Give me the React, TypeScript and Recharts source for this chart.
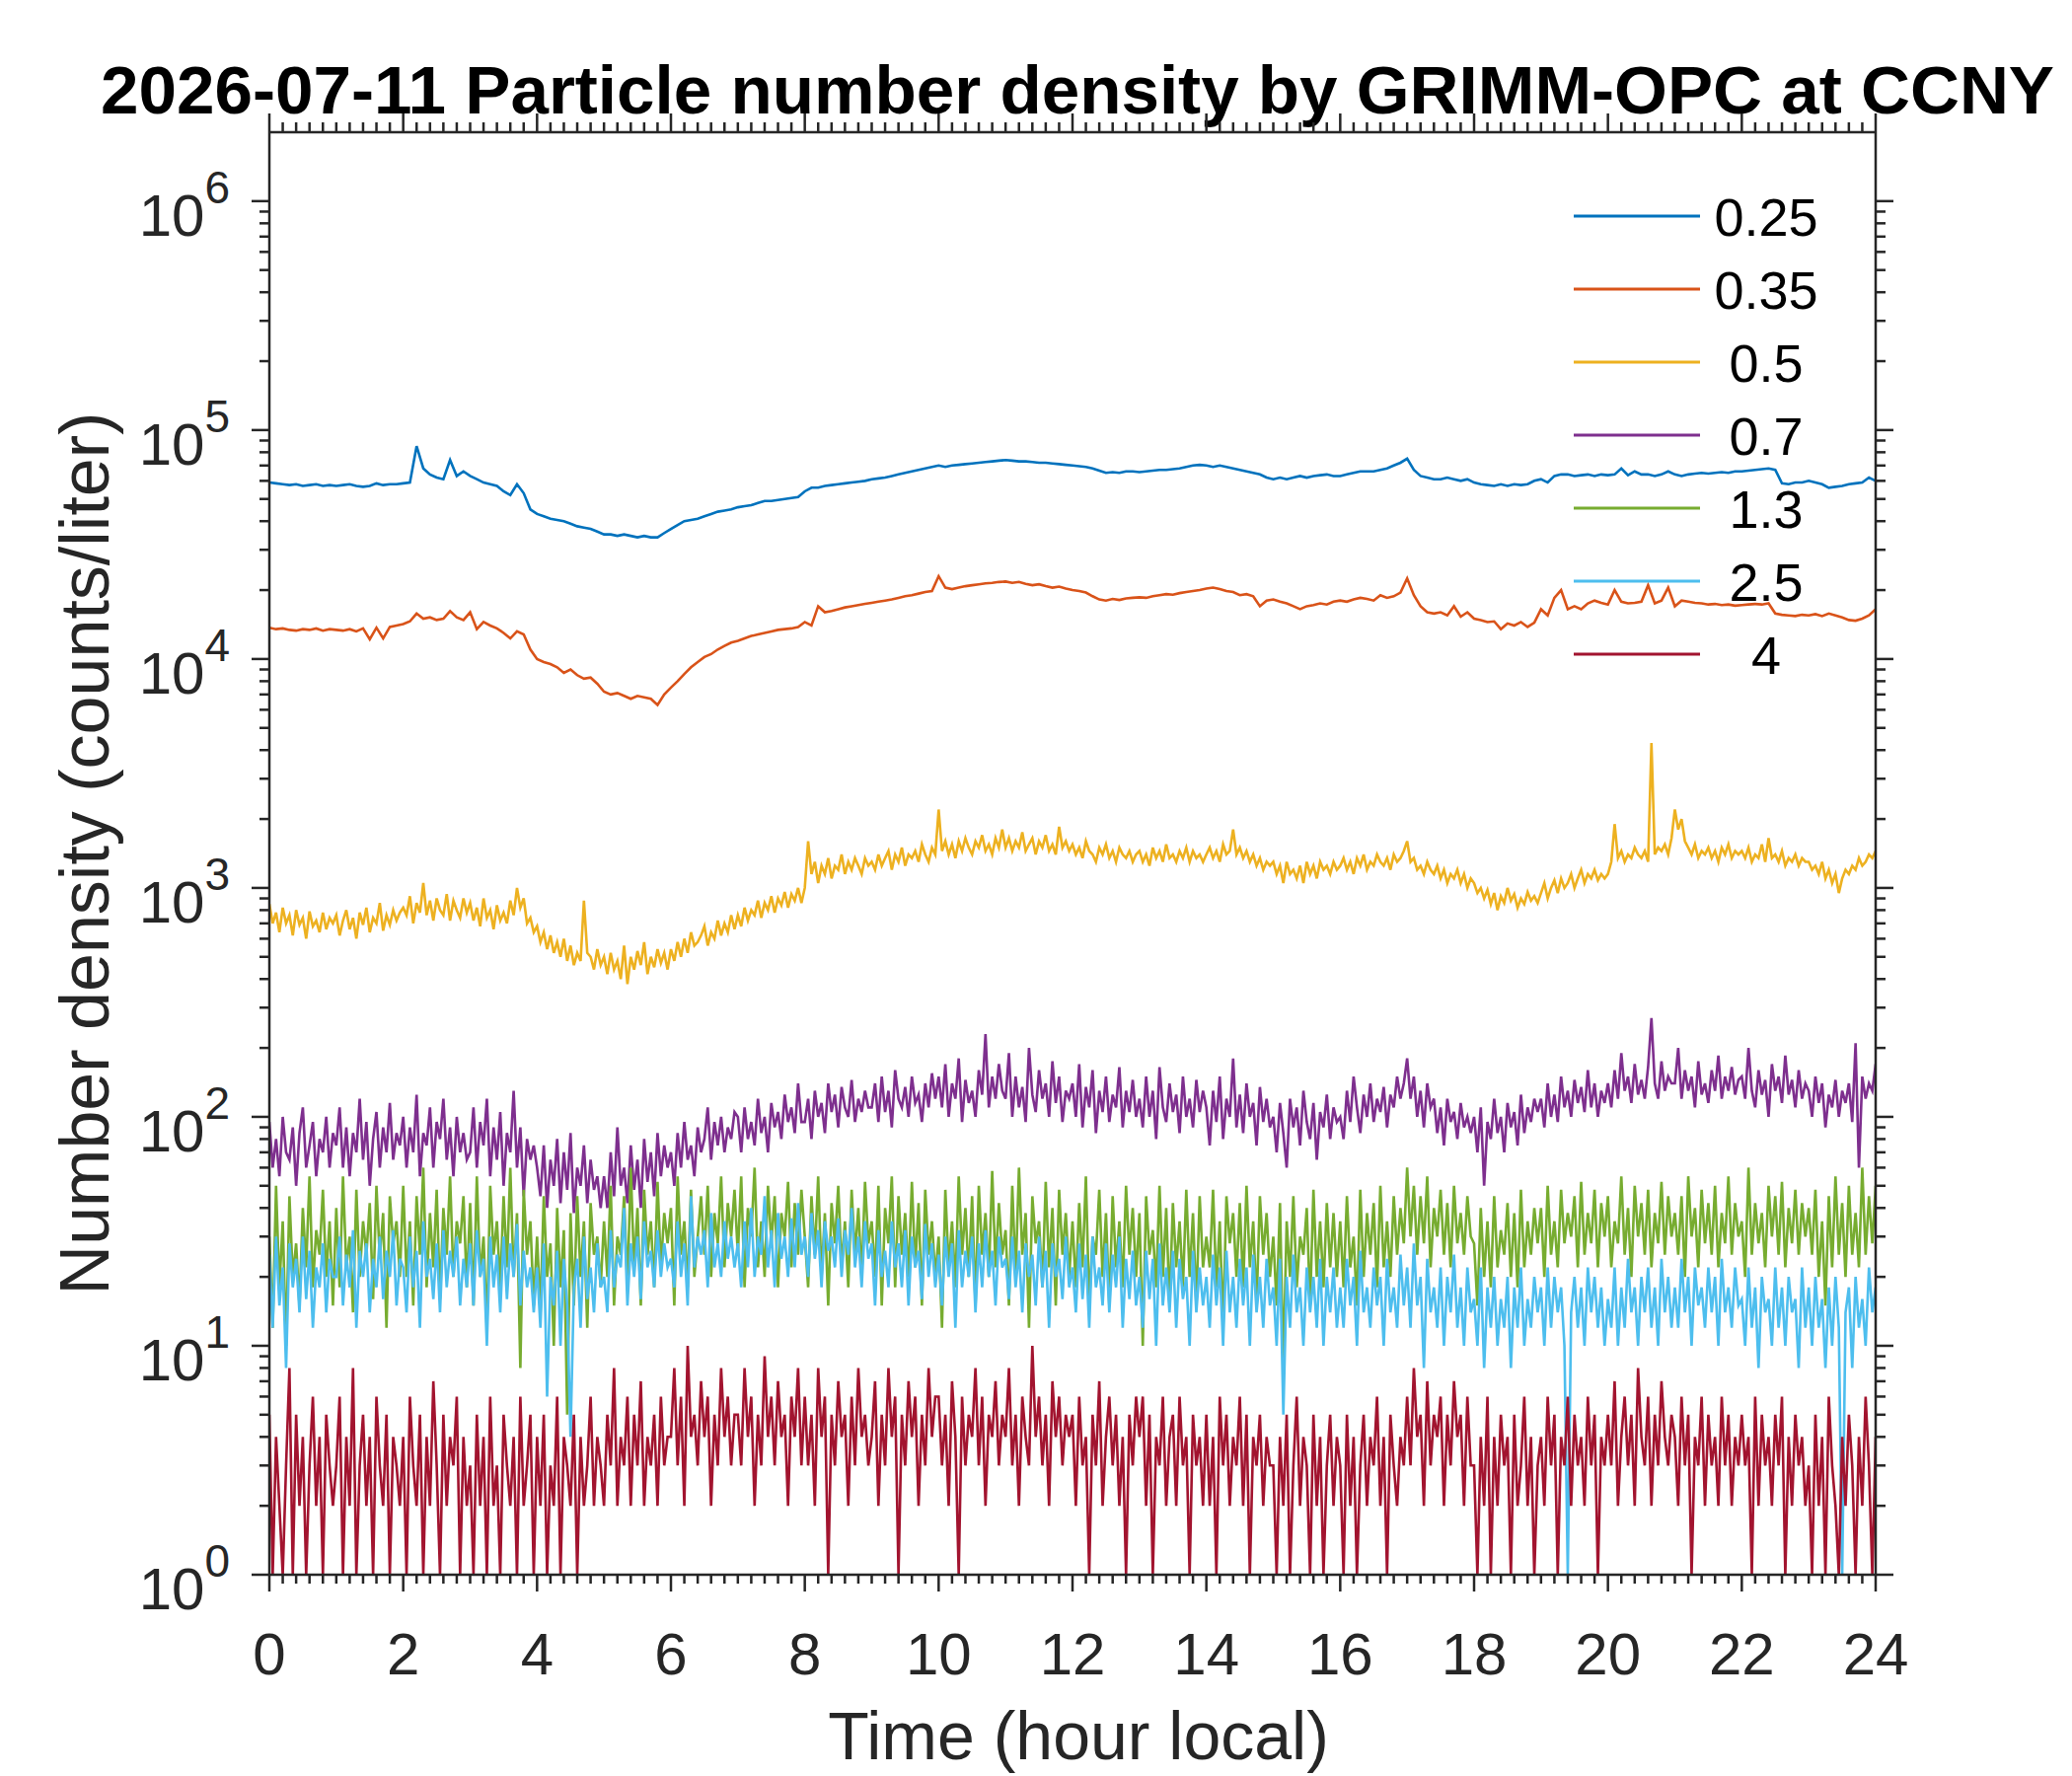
import { LineChart, Line, XAxis, YAxis, Legend } from 'recharts';

const FONT = '"Liberation Sans", Arial, Helvetica, sans-serif';
const INK = '#262626';

// time of day, hours: smooth bins every 6 min, noisy bins every 3 min
const hours = Array.from({ length: 241 }, (_, i) => i / 10);
const fineHours = Array.from({ length: 481 }, (_, i) => i / 20);

// bin sizes (um) and MATLAB default colour order
const sizes = ['0.25', '0.35', '0.5', '0.7', '1.3', '2.5', '4'];
const colors = ['#0072BD', '#D95319', '#EDB120', '#7E2F8E', '#77AC30', '#4DBEEE', '#A2142F'];

// counts/liter, one row per hour (10 values)
const n025 = [
  59000, 58500, 58000, 57500, 58000, 57000, 57500, 58000, 57000, 57500,
  57000, 57500, 58000, 57000, 56500, 57000, 58500, 57500, 58000, 58000,
  58500, 59000, 85000, 68000, 64000, 62000, 61000, 74000, 63000, 66000,
  63000, 61000, 59000, 58000, 57000, 54000, 52000, 58000, 53000, 45000,
  43000, 42000, 41000, 40500, 40000, 39000, 38000, 37500, 37000, 36000,
  35000, 35000, 34500, 35000, 34500, 34000, 34500, 34000, 34000, 35500,
  37000, 38500, 40000, 40500, 41000, 42000, 43000, 44000, 44500, 45000,
  46000, 46500, 47000, 48000, 49000, 49000, 49500, 50000, 50500, 51000,
  54000, 56000, 56000, 57000, 57500, 58000, 58500, 59000, 59500, 60000,
  61000, 61500, 62000, 63000, 64000, 65000, 66000, 67000, 68000, 69000,
  70000, 69000, 70000, 70500, 71000, 71500, 72000, 72500, 73000, 73500,
  74000, 73500, 73000, 73000, 72500, 72000, 72000, 71500, 71000, 70500,
  70000, 69500, 69000, 68000, 66500, 65000, 65500, 65000, 66000, 66000,
  65500, 66000, 66500, 67000, 67000, 67500, 68000, 69000, 70000, 70500,
  70000, 69000, 70000, 69000, 68000, 67000, 66000, 65000, 64000, 62000,
  61000, 62000, 61000, 62000, 63000, 62000, 63000, 63500, 64000, 63000,
  63000, 64000, 65000, 66000, 66000, 66000, 67000, 68000, 70000, 72000,
  75000, 67000, 63000, 62000, 61000, 61000, 62000, 61000, 60000, 61000,
  59000, 58000, 57500, 57000, 58000, 57000, 58000, 57500, 58000, 60000,
  61000, 59000, 63000, 64000, 64000, 63000, 63500, 64000, 63000, 64000,
  63500, 64000, 68000, 63500, 66000, 64000, 64000, 63000, 64000, 66000,
  64000, 63000, 64000, 64500, 65000, 64500, 65000, 65500, 65000, 66000,
  66000, 66500, 67000, 67500, 68000, 67000, 58500, 58000, 59000, 59000,
  60000, 59000, 58000, 56000, 56500, 57000, 58000, 58500, 59000, 62000,
  60000,
];

const n035 = [
  13700, 13500, 13600, 13400, 13300, 13500, 13400, 13600, 13300, 13500,
  13400, 13300, 13500, 13200, 13600, 12200, 13700, 12300, 13800, 14000,
  14200, 14600, 15800, 15000, 15200, 14800, 15000, 16200, 15200, 14800,
  16000, 13500, 14500, 14000, 13600, 13000, 12300, 13200, 12800, 11000,
  10000, 9700, 9500, 9200, 8700, 9000, 8500, 8200, 8300, 7800,
  7200, 7000, 7100, 6900, 6700, 6900, 6800, 6700, 6300, 7000,
  7500, 8000, 8600, 9200, 9700, 10200, 10500, 11000, 11400, 11800,
  12000, 12300, 12600, 12800, 13000, 13200, 13400, 13500, 13600, 13800,
  14500, 14000, 17000, 16000, 16200, 16500, 16800, 17000, 17200, 17400,
  17600, 17800, 18000, 18200, 18500, 18800, 19000, 19300, 19600, 19800,
  23000, 20500, 20200, 20500, 20800, 21000, 21200, 21400, 21500, 21700,
  21800, 21500, 21700, 21300, 21000, 21200, 20800, 20500, 20700, 20300,
  20000, 19800, 19500, 18800, 18200, 18000, 18300, 18100, 18400, 18500,
  18600, 18500, 18800, 19000, 19200, 19100, 19400, 19600, 19800, 20000,
  20300, 20500, 20200, 19800, 19600, 19000, 19200, 18800, 17000, 18000,
  18200, 17800, 17500, 17000, 16500, 17000, 17200, 17500, 17300, 17800,
  18000, 17800, 18200, 18500, 18300, 18000, 19000, 18500, 18800, 19500,
  22500, 19000, 17000, 16000, 15800, 16000, 15500, 17000, 15300, 16000,
  15000, 14800, 14500, 14600, 13500, 14300, 14000, 14500, 13800, 14400,
  16500, 15500, 18500, 20000, 16500, 17000, 16500, 17500, 18000, 17600,
  17300, 20000, 17800, 17500, 17600, 17800, 21000, 17500, 18000, 20500,
  17000, 18000, 17800, 17600, 17500, 17300, 17400, 17200, 17300, 17100,
  17200, 17300, 17400, 17300, 17500, 15800, 15600, 15500, 15400, 15600,
  15500, 15700, 15400, 15800, 15500, 15200, 14800, 14700, 15000, 15500,
  16500,
];

// noisy bins, one row per hour (20 values)
const n05 = [
  850, 700, 780, 640, 820, 700, 760, 620, 800, 690, 740, 600, 790, 680, 720, 640, 780, 660, 740, 700,
  760, 620, 720, 800, 660, 740, 600, 780, 690, 820, 640, 740, 700, 860, 650, 760, 690, 800, 720, 780,
  820, 760, 920, 700, 860, 780, 1050, 760, 880, 720, 900, 800, 760, 940, 720, 880, 800, 740, 900, 780,
  860, 720, 820, 680, 900, 740, 800, 660, 840, 720, 780, 700, 880, 760, 1000, 820, 900, 700, 740, 640,
  680, 580, 640, 540, 620, 520, 580, 500, 600, 480, 560, 460, 520, 480, 880, 520, 500, 440, 540, 460,
  500, 420, 520, 440, 480, 400, 560, 380, 500, 440, 530, 460, 580, 420, 500, 450, 540, 470, 520, 440,
  540, 480, 580, 500, 600, 520, 640, 560, 580, 620, 680, 560, 640, 600, 720, 620, 700, 640, 760, 660,
  760, 680, 820, 720, 800, 760, 880, 740, 860, 800, 920, 780, 900, 840, 960, 820, 940, 880, 1000, 860,
  1000, 1600, 1150, 1300, 1050, 1250, 1150, 1350, 1100, 1250, 1200, 1400, 1150, 1300, 1200, 1350, 1250, 1150, 1350, 1250,
  1300, 1200, 1400, 1250, 1350, 1450, 1200, 1400, 1300, 1500, 1250, 1400, 1350, 1450, 1300, 1550, 1400, 1300, 1500, 1400,
  2200, 1450, 1600, 1400, 1550, 1350, 1600, 1450, 1650, 1500, 1400, 1600, 1500, 1700, 1450, 1550, 1400, 1650, 1500, 1800,
  1500, 1650, 1450, 1600, 1500, 1750, 1450, 1550, 1650, 1400, 1600, 1500, 1700, 1450, 1550, 1400, 1850, 1500, 1600, 1450,
  1550, 1400, 1500, 1350, 1600, 1450, 1400, 1300, 1500, 1400, 1550, 1350, 1450, 1300, 1500, 1400, 1350, 1450, 1300, 1400,
  1450, 1300, 1400, 1250, 1500, 1350, 1450, 1300, 1550, 1350, 1400, 1300, 1450, 1350, 1500, 1300, 1450, 1350, 1400, 1300,
  1400, 1500, 1350, 1450, 1300, 1550, 1400, 1450, 1800, 1400, 1500, 1350, 1450, 1300, 1400, 1250, 1350, 1200, 1300, 1250,
  1300, 1150, 1250, 1050, 1300, 1150, 1200, 1100, 1250, 1050, 1300, 1150, 1250, 1100, 1300, 1200, 1250, 1150, 1300, 1200,
  1250, 1350, 1200, 1300, 1150, 1350, 1250, 1400, 1200, 1300, 1250, 1400, 1300, 1250, 1350, 1200, 1400, 1300, 1350, 1450,
  1600, 1300, 1350, 1200, 1250, 1150, 1300, 1200, 1150, 1250, 1100, 1200, 1050, 1150, 1100, 1200, 1050, 1150, 1000, 1100,
  1050, 950, 1000, 900, 980, 850, 950, 800, 920, 860, 1000, 880, 940, 820, 900, 850, 960, 880, 920, 860,
  950, 1050, 900, 1000, 1080, 950, 1100, 1000, 1050, 1150, 1000, 1100, 1200, 1050, 1150, 1100, 1200, 1080, 1150, 1100,
  1150, 1300, 1900, 1350, 1450, 1300, 1400, 1350, 1500, 1400, 1350, 1450, 1300, 4300, 1400, 1500, 1450, 1550, 1400, 1650,
  2200, 1800, 2000, 1600, 1500, 1400, 1550, 1350, 1450, 1400, 1500, 1350, 1450, 1300, 1500, 1400, 1550, 1350, 1450, 1400,
  1450, 1350, 1500, 1300, 1400, 1350, 1550, 1300, 1650, 1350, 1400, 1300, 1450, 1250, 1350, 1300, 1400, 1250, 1350, 1300,
  1300, 1200, 1250, 1150, 1300, 1100, 1200, 1050, 1150, 950, 1100, 1200, 1150, 1250, 1200, 1350, 1250, 1300, 1400, 1350,
  1450,
];

const n07 = [
  95, 60, 80, 55, 100, 70, 65, 90, 50, 85, 110, 60, 75, 95, 55, 80, 70, 100, 60, 85,
  75, 110, 60, 90, 55, 85, 70, 120, 65, 95, 50, 80, 105, 60, 90, 70, 115, 65, 85, 75,
  100, 60, 90, 70, 125, 55, 85, 75, 110, 60, 95, 80, 120, 65, 90, 55, 100, 70, 85, 65,
  70, 110, 60, 95, 75, 120, 55, 90, 65, 105, 50, 85, 70, 130, 60, 90, 45, 80, 65, 75,
  60, 45, 75, 40, 65, 50, 80, 42, 70, 48, 85, 38, 60, 50, 75, 42, 65, 48, 55, 40,
  55, 40, 70, 45, 90, 50, 60, 42, 75, 48, 65, 40, 80, 52, 70, 45, 85, 55, 75, 60,
  70, 50, 85, 60, 95, 65, 75, 55, 90, 70, 80, 110, 65, 95, 75, 100, 70, 90, 80, 105,
  100, 70, 110, 80, 95, 75, 120, 85, 100, 70, 115, 90, 105, 80, 125, 95, 110, 85, 140, 95,
  95, 120, 80, 130, 100, 115, 85, 140, 105, 125, 90, 135, 110, 100, 145, 95, 120, 105, 130, 110,
  110, 140, 95, 150, 105, 130, 90, 160, 120, 110, 135, 100, 150, 115, 125, 95, 140, 110, 155, 120,
  150, 110, 170, 100, 140, 120, 180, 95, 145, 115, 130, 100, 160, 125, 230, 110, 150, 120, 170, 130,
  120, 190, 100, 150, 110, 135, 95, 200, 125, 105, 160, 120, 140, 100, 175, 115, 150, 95, 130, 120,
  140, 100, 170, 90, 135, 110, 160, 85, 130, 105, 150, 95, 125, 110, 165, 90, 130, 105, 145, 100,
  120, 90, 150, 100, 130, 80, 165, 110, 95, 140, 105, 125, 85, 150, 100, 120, 90, 145, 105, 130,
  110, 75, 130, 95, 150, 80, 120, 100, 180, 90, 125, 85, 140, 100, 115, 75, 135, 95, 120, 90,
  100, 70, 115, 85, 60, 120, 90, 110, 75, 130, 95, 80, 115, 65, 105, 90, 125, 80, 110, 95,
  100, 80, 130, 95, 150, 110, 85, 125, 100, 140, 95, 120, 105, 135, 90, 125, 110, 150, 120, 140,
  180, 120, 150, 100, 130, 90, 140, 110, 120, 85, 110, 75, 120, 95, 105, 80, 115, 90, 100, 85,
  100, 70, 110, 50, 95, 80, 120, 85, 100, 70, 115, 90, 105, 75, 125, 85, 110, 95, 120, 105,
  120, 90, 140, 100, 125, 95, 150, 110, 130, 100, 145, 115, 135, 105, 160, 110, 140, 100, 130, 115,
  140, 110, 160, 120, 190, 130, 150, 115, 170, 125, 145, 120, 165, 270, 140, 120, 175, 130, 150, 140,
  140, 200, 120, 160, 130, 150, 110, 175, 125, 140, 115, 160, 130, 185, 120, 150, 130, 165, 125, 145,
  150, 120, 200, 130, 110, 160, 125, 145, 100, 170, 130, 150, 115, 185, 125, 145, 110, 160, 120, 140,
  130, 100, 150, 115, 140, 90, 125, 110, 145, 100, 130, 115, 140, 95, 210, 60, 150, 120, 140, 130,
  170,
];

const n13 = [
  30, 12, 50, 18, 35, 10, 45, 20, 28, 15, 40, 22, 55, 18, 32, 25, 48, 20, 35, 15,
  40, 18, 55, 22, 30, 14, 48, 20, 35, 25, 42, 16, 50, 24, 38, 12, 45, 28, 35, 20,
  50, 20, 35, 15, 45, 25, 60, 18, 38, 22, 48, 16, 40, 25, 55, 20, 35, 28, 45, 18,
  42, 15, 55, 20, 30, 12, 50, 25, 35, 18, 45, 22, 60, 20, 38, 8, 48, 25, 35, 15,
  30, 14, 45, 20, 28, 10, 40, 18, 32, 5, 38, 15, 45, 20, 35, 12, 42, 25, 30, 18,
  35, 20, 50, 15, 30, 25, 45, 18, 60, 22, 40, 15, 48, 25, 35, 18, 52, 22, 38, 28,
  40, 15, 55, 25, 35, 18, 48, 20, 30, 45, 25, 50, 20, 38, 28, 55, 22, 42, 30, 48,
  25, 55, 18, 40, 30, 60, 22, 35, 20, 50, 28, 45, 18, 38, 30, 52, 22, 42, 25, 48,
  30, 18, 45, 25, 55, 20, 38, 15, 42, 28, 50, 22, 35, 18, 48, 25, 40, 20, 52, 28,
  35, 20, 50, 15, 40, 28, 55, 18, 45, 25, 38, 20, 52, 22, 42, 15, 48, 25, 35, 20,
  30, 12, 48, 22, 35, 18, 55, 25, 40, 20, 45, 15, 50, 25, 38, 20, 58, 22, 42, 25,
  32, 15, 50, 20, 60, 25, 38, 12, 45, 28, 35, 18, 52, 22, 40, 15, 48, 25, 38, 20,
  35, 18, 42, 22, 55, 15, 30, 25, 48, 20, 38, 15, 45, 22, 35, 18, 50, 25, 40, 20,
  38, 10, 45, 25, 32, 18, 50, 20, 40, 15, 42, 22, 35, 18, 48, 20, 38, 15, 45, 22,
  30, 22, 48, 18, 35, 12, 45, 28, 38, 20, 42, 18, 50, 22, 35, 15, 45, 25, 38, 20,
  30, 15, 42, 8, 35, 20, 45, 18, 30, 25, 40, 15, 48, 20, 35, 18, 42, 22, 38, 20,
  35, 18, 45, 22, 30, 15, 48, 20, 38, 25, 42, 18, 50, 22, 35, 20, 45, 25, 40, 28,
  60, 30, 50, 25, 45, 28, 55, 22, 40, 30, 48, 25, 42, 22, 50, 28, 38, 25, 45, 30,
  28, 15, 40, 20, 35, 18, 45, 22, 32, 25, 42, 20, 38, 18, 48, 22, 35, 25, 40, 28,
  40, 20, 50, 25, 35, 22, 48, 28, 38, 30, 45, 22, 52, 25, 38, 28, 48, 22, 42, 30,
  45, 22, 35, 28, 55, 25, 40, 20, 50, 30, 42, 25, 48, 22, 38, 28, 52, 25, 45, 30,
  38, 25, 45, 20, 55, 30, 40, 22, 48, 28, 42, 25, 50, 22, 38, 28, 55, 25, 42, 30,
  35, 20, 60, 25, 42, 28, 38, 22, 50, 30, 45, 25, 52, 22, 40, 28, 48, 25, 42, 30,
  40, 25, 48, 20, 35, 15, 45, 22, 55, 25, 42, 20, 50, 25, 38, 22, 60, 25, 45, 28,
  50,
];

const n25 = [
  25, 12, 30, 15, 22, 8, 28, 18, 24, 14, 30, 16, 26, 12, 22, 18, 28, 14, 24, 20,
  20, 30, 15, 25, 18, 32, 12, 26, 20, 28, 14, 24, 18, 30, 16, 26, 20, 32, 15, 24,
  22, 14, 30, 18, 26, 12, 35, 20, 24, 16, 28, 14, 32, 18, 26, 20, 30, 15, 24, 18,
  28, 15, 32, 20, 24, 10, 30, 18, 25, 14, 30, 16, 28, 20, 34, 15, 26, 18, 22, 14,
  22, 12, 28, 6, 20, 15, 26, 10, 24, 15, 4, 18, 24, 12, 30, 16, 22, 14, 28, 18,
  20, 14, 32, 18, 25, 22, 40, 15, 28, 20, 30, 16, 35, 22, 26, 18, 32, 20, 28, 22,
  24, 18, 35, 20, 28, 15, 45, 22, 30, 25, 32, 18, 38, 22, 28, 20, 35, 24, 30, 22,
  28, 18, 35, 22, 40, 20, 30, 25, 45, 22, 32, 18, 38, 24, 30, 20, 36, 22, 42, 25,
  30, 20, 38, 24, 32, 18, 35, 26, 30, 22, 36, 20, 32, 25, 40, 22, 30, 18, 35, 24,
  28, 15, 32, 20, 26, 18, 35, 22, 28, 18, 32, 15, 30, 22, 26, 16, 34, 20, 28, 18,
  25, 15, 30, 20, 28, 12, 32, 18, 26, 20, 30, 14, 28, 18, 32, 20, 26, 15, 30, 22,
  24, 16, 30, 18, 26, 14, 28, 20, 25, 15, 30, 18, 26, 12, 28, 20, 24, 16, 30, 18,
  22, 14, 28, 16, 25, 12, 30, 18, 22, 15, 28, 14, 25, 18, 30, 12, 24, 16, 26, 15,
  20, 12, 26, 16, 24, 10, 28, 15, 22, 14, 26, 12, 24, 16, 20, 10, 26, 14, 22, 15,
  20, 12, 25, 15, 22, 10, 26, 14, 20, 12, 24, 15, 22, 10, 25, 14, 20, 12, 24, 15,
  18, 10, 24, 5, 20, 12, 25, 14, 18, 10, 22, 14, 20, 12, 24, 10, 20, 14, 22, 12,
  18, 12, 24, 15, 20, 10, 26, 14, 18, 12, 22, 15, 20, 10, 24, 14, 18, 12, 25, 15,
  22, 12, 28, 15, 20, 8, 24, 14, 18, 12, 22, 10, 20, 14, 25, 12, 18, 10, 22, 14,
  16, 10, 22, 8, 18, 12, 20, 10, 16, 12, 20, 8, 18, 12, 22, 10, 16, 12, 20, 14,
  18, 10, 22, 12, 20, 14, 18, 10, 1, 14, 20, 12, 18, 10, 22, 14, 20, 12, 18, 10,
  16, 12, 22, 10, 18, 12, 24, 14, 18, 10, 20, 14, 22, 12, 18, 10, 24, 14, 20, 12,
  18, 12, 24, 14, 20, 10, 22, 15, 18, 12, 22, 14, 20, 10, 24, 14, 18, 12, 22, 15,
  16, 10, 22, 12, 18, 8, 20, 14, 16, 10, 22, 12, 18, 10, 20, 14, 16, 8, 22, 12,
  18, 10, 20, 12, 16, 8, 18, 10, 20, 12, 1, 14, 18, 8, 20, 12, 16, 10, 22, 14,
  18,
];

const n4 = [
  5, 1, 4, 2, 1, 3, 8, 1, 5, 2, 4, 1, 3, 6, 2, 4, 1, 5, 3, 2,
  3, 6, 1, 4, 2, 8, 1, 3, 5, 2, 4, 1, 6, 3, 2, 5, 1, 4, 3, 2,
  4, 1, 6, 3, 2, 5, 1, 4, 2, 7, 3, 1, 5, 2, 4, 3, 6, 1, 4, 2,
  3, 1, 5, 2, 4, 1, 6, 2, 3, 1, 5, 3, 2, 4, 1, 6, 2, 3, 5, 1,
  4, 2, 5, 1, 3, 2, 6, 1, 4, 3, 2, 5, 1, 4, 2, 3, 6, 2, 4, 3,
  2, 5, 3, 8, 2, 4, 3, 6, 2, 5, 3, 7, 2, 4, 3, 5, 2, 6, 3, 4,
  4, 8, 3, 6, 2, 10, 4, 5, 3, 7, 4, 6, 2, 5, 3, 8, 4, 6, 3, 5,
  5, 3, 8, 4, 6, 2, 5, 3, 9, 4, 6, 3, 7, 4, 5, 2, 6, 4, 8, 3,
  6, 3, 5, 2, 8, 4, 6, 1, 5, 3, 7, 4, 5, 2, 6, 3, 8, 4, 5, 3,
  4, 7, 2, 5, 3, 8, 4, 6, 1, 5, 3, 7, 4, 6, 2, 5, 3, 8, 4, 6,
  6, 3, 5, 2, 7, 4, 1, 6, 3, 5, 4, 8, 3, 6, 2, 5, 4, 7, 3, 5,
  4, 8, 3, 5, 2, 6, 4, 3, 10, 4, 6, 3, 5, 2, 7, 4, 6, 3, 5, 4,
  5, 2, 6, 3, 4, 1, 5, 3, 7, 2, 4, 6, 3, 5, 2, 4, 1, 5, 3, 6,
  4, 6, 2, 5, 1, 4, 3, 6, 2, 4, 5, 2, 6, 3, 4, 1, 5, 3, 4, 2,
  5, 2, 4, 1, 6, 3, 5, 2, 4, 3, 6, 2, 5, 1, 4, 3, 5, 2, 4, 3,
  3, 1, 4, 2, 5, 1, 3, 6, 2, 4, 3, 1, 5, 2, 4, 1, 3, 5, 2, 4,
  3, 1, 5, 2, 4, 1, 3, 5, 2, 4, 3, 6, 2, 4, 1, 5, 3, 2, 4, 3,
  6, 3, 8, 4, 5, 2, 7, 3, 5, 4, 6, 2, 5, 3, 7, 4, 5, 2, 6, 3,
  3, 1, 4, 2, 6, 1, 4, 2, 5, 3, 4, 1, 5, 2, 3, 6, 2, 4, 1, 3,
  4, 2, 6, 3, 5, 1, 4, 3, 6, 2, 5, 3, 4, 2, 6, 3, 5, 1, 4, 3,
  5, 3, 7, 2, 4, 6, 3, 5, 2, 8, 4, 3, 6, 2, 5, 3, 7, 4, 3, 5,
  4, 2, 6, 3, 5, 1, 4, 3, 6, 2, 5, 3, 4, 2, 6, 3, 5, 2, 4, 3,
  5, 3, 4, 1, 6, 2, 5, 3, 4, 2, 5, 3, 6, 1, 4, 2, 5, 3, 4, 2,
  3, 1, 5, 2, 4, 1, 6, 3, 2, 1, 4, 2, 5, 3, 1, 4, 2, 6, 3, 1,
  4,
];

const xMajor = [0, 2, 4, 6, 8, 10, 12, 14, 16, 18, 20, 22, 24];
const yMajor = [1, 10, 100, 1000, 10000, 100000, 1000000];

const series = [n025, n035, n05, n07, n13, n25, n4];
const seriesData = series.map((s) => {
  const grid = s.length === hours.length ? hours : fineHours;
  return grid.map((h, i) => ({ h, v: s[i] }));
});

// minor ticks every 0.2 h, log minors 2..9 per decade
const xTicks = Array.from({ length: 121 }, (_, i) => i / 5);
const yTicks = yMajor.flatMap((d) => [1, 2, 3, 4, 5, 6, 7, 8, 9].map((k) => k * d)).filter((v) => v < 2000000);

const BottomTick = ({ x, y, payload }: any) => {
  const major = xMajor.includes(payload.value);
  return (
    <g>
      <line x1={x} x2={x} y1={y} y2={y + (major ? 17 : 9)} stroke={INK} strokeWidth={2.5} />
      {major && (
        <text x={x} y={y + 101} textAnchor="middle" fontSize={60} fill={INK} fontFamily={FONT}>
          {payload.value}
        </text>
      )}
    </g>
  );
};

const TopTick = ({ x, y, payload }: any) => {
  const major = xMajor.includes(payload.value);
  return <line x1={x} x2={x} y1={y} y2={y - (major ? 19 : 10)} stroke={INK} strokeWidth={2.5} />;
};

const LeftTick = ({ x, y, payload }: any) => {
  const v = payload.value;
  const major = yMajor.includes(v);
  return (
    <g>
      <line x1={x - (major ? 18 : 10)} x2={x} y1={y} y2={y} stroke={INK} strokeWidth={2.5} />
      {major && (
        <text x={x - 40} y={y + 35} textAnchor="end" fontSize={60} fill={INK} fontFamily={FONT}>
          10
          <tspan dy={-33} fontSize={46}>
            {Math.round(Math.log10(v))}
          </tspan>
        </text>
      )}
    </g>
  );
};

const RightTick = ({ x, y, payload }: any) => {
  const major = yMajor.includes(payload.value);
  return <line x1={x} x2={x + (major ? 18 : 10)} y1={y} y2={y} stroke={INK} strokeWidth={2.5} />;
};

const TitleLabel = ({ viewBox }: any) => (
  <text
    x={viewBox.x + viewBox.width / 2 + 5}
    y={viewBox.y + viewBox.height - 19}
    textAnchor="middle"
    fontSize={68}
    fontWeight="bold"
    fill="#000"
    fontFamily={FONT}
    textLength={1980}
    lengthAdjust="spacingAndGlyphs"
  >
    2026-07-11 Particle number density by GRIMM-OPC at CCNY
  </text>
);

const XTitle = ({ viewBox }: any) => (
  <text x={viewBox.x + viewBox.width / 2 + 6} y={viewBox.y + 187} textAnchor="middle" fontSize={68} fill={INK} fontFamily={FONT}>
    Time (hour local)
  </text>
);

const YTitle = ({ viewBox }: any) => {
  const cx = viewBox.x - 63;
  const cy = viewBox.y + viewBox.height / 2;
  return (
    <text x={cx} y={cy} transform={`rotate(-90, ${cx}, ${cy})`} textAnchor="middle" fontSize={70} fill={INK} fontFamily={FONT}>
      Number density (counts/liter)
    </text>
  );
};

const renderLegend = ({ payload }: any) => (
  <svg width={330} height={540} style={{ display: 'block' }}>
    {(payload || []).map((p: any, i: number) => {
      const cy = 39 + i * 74;
      return (
        <g key={p.value}>
          <line x1={15} x2={143} y1={cy} y2={cy} stroke={p.color} strokeWidth={3} />
          <text x={210} y={cy + 20} textAnchor="middle" fontSize={54} fill="#000" fontFamily={FONT}>
            {p.value}
          </text>
        </g>
      );
    })}
  </svg>
);

const axisLine = { stroke: INK, strokeWidth: 2.5 };

export default function App() {
  return (
    <div style={{ position: 'absolute', left: 0, top: 0, width: 2100, height: 1800, background: '#fff' }}>
      <LineChart width={2100} height={1800} margin={{ top: 94, right: 99, bottom: 104, left: 173 }}>
        <XAxis
          dataKey="h"
          type="number"
          domain={[0, 24]}
          allowDataOverflow
          ticks={xTicks}
          interval={0}
          height={100}
          axisLine={axisLine}
          tickLine={false}
          tickSize={0}
          tickMargin={0}
          tick={<BottomTick />}
          label={XTitle}
        />
        <XAxis
          xAxisId="top"
          orientation="top"
          dataKey="h"
          type="number"
          domain={[0, 24]}
          allowDataOverflow
          ticks={xTicks}
          interval={0}
          height={40}
          axisLine={axisLine}
          tickLine={false}
          tickSize={0}
          tickMargin={0}
          tick={<TopTick />}
          label={TitleLabel}
        />
        <YAxis
          type="number"
          scale="log"
          domain={[1, 2000000]}
          allowDataOverflow
          ticks={yTicks}
          interval={0}
          width={100}
          axisLine={axisLine}
          tickLine={false}
          tickSize={0}
          tickMargin={0}
          tick={<LeftTick />}
          label={YTitle}
        />
        <YAxis
          yAxisId="right"
          orientation="right"
          type="number"
          scale="log"
          domain={[1, 2000000]}
          allowDataOverflow
          ticks={yTicks}
          interval={0}
          width={100}
          axisLine={axisLine}
          tickLine={false}
          tickSize={0}
          tickMargin={0}
          tick={<RightTick />}
        />
        <Legend
          layout="vertical"
          align="center"
          verticalAlign="middle"
          content={renderLegend}
          wrapperStyle={{ left: 1580, top: 180, width: 330, height: 540 }}
        />
        {seriesData.map((d, j) => (
          <Line
            key={sizes[j]}
            data={d}
            type="linear"
            dataKey="v"
            name={sizes[j]}
            stroke={colors[j]}
            strokeWidth={2.6}
            dot={false}
            activeDot={false}
            isAnimationActive={false}
          />
        ))}
      </LineChart>
    </div>
  );
}
